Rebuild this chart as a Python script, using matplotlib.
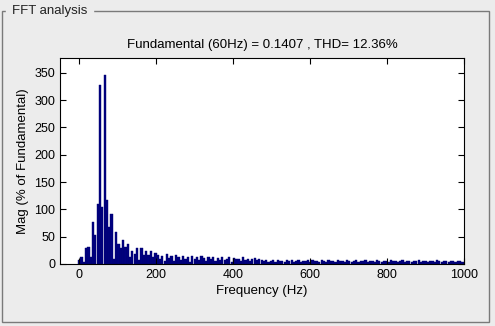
import numpy as np
import matplotlib
matplotlib.use("Agg")
from matplotlib import pyplot as plt
from matplotlib.patches import Rectangle

plt.rcParams['font.family'] = ['Liberation Sans', 'DejaVu Sans']

# harmonic magnitudes (% of fundamental), one bar every 6 Hz from 0 Hz
mag = [8, 12, 3, 30, 32, 12, 76, 53, 110, 328, 105, 345, 117, 68, 92, 10, 59, 37, 29, 44,
       32, 37, 13, 23, 18, 29, 7, 29, 16, 23, 16, 23, 13, 21,
       17, 9, 15, 6, 18, 11, 14, 5, 16, 12, 8, 15, 10, 13, 4, 14, 9, 12, 7, 15, 11,
       6, 13, 9, 12, 5, 11, 8, 13, 7, 10, 12, 4, 11, 9, 10, 6, 12, 8, 9, 5, 10, 11, 7, 9,
       7, 5, 8, 3, 6, 7, 4, 8, 5, 6, 3, 7, 5, 8, 4, 6, 7, 3, 6, 5,
       8, 4, 7, 5, 6, 3, 7, 6, 4, 8, 5, 6, 3, 7, 5, 6, 4, 7, 5, 3,
       6, 7, 4, 6, 5, 7, 3, 6, 5, 4, 7, 6, 3, 5, 6, 4, 7, 5, 6, 3,
       5, 7, 4, 6, 5, 3, 6, 5, 7, 4, 5, 6, 3, 6, 5, 4, 7, 5, 3, 6,
       5, 4, 6, 5, 3, 5, 6, 4]
bin_hz = 6
freq = np.arange(len(mag)) * bin_hz

xticks = [0, 200, 400, 600, 800, 1000]
yticks = [0, 50, 100, 150, 200, 250, 300, 350]
title = "Fundamental (60Hz) = 0.1407 , THD= 12.36%"

bg = '#ececec'
fig = plt.figure(figsize=(4.95, 3.26), dpi=100, facecolor=bg)

# panel frame with its caption
fig.patches.append(Rectangle((2/495, 4/326), 487/495, 311/326, transform=fig.transFigure,
                             fill=False, edgecolor='#7a7a7a', linewidth=1))
fig.text(12/495, 1 - 11/326, "FFT analysis", fontsize=9.5, va='center', ha='left',
         backgroundcolor=bg, color='#222222')

ax = fig.add_axes([60/495, 62/326, 404/495, 206/326])
ax.bar(freq, mag, width=bin_hz * 0.95, color='#000080', edgecolor='#000070', linewidth=0.3)

ax.set_xlim(-50, 1000)
ax.set_ylim(0, 377)
ax.set_xticks(xticks)
ax.set_yticks(yticks)
ax.tick_params(direction='in', top=True, right=True, length=4, width=0.8, labelsize=9)
for s in ax.spines.values():
    s.set_linewidth(0.8)

ax.set_title(title, fontsize=9.5, pad=7)
ax.set_xlabel("Frequency (Hz)", fontsize=9.5, labelpad=3)
ax.set_ylabel("Mag (% of Fundamental)", fontsize=9.5, labelpad=4)

fig.savefig("out.png", dpi=100, facecolor=bg)
